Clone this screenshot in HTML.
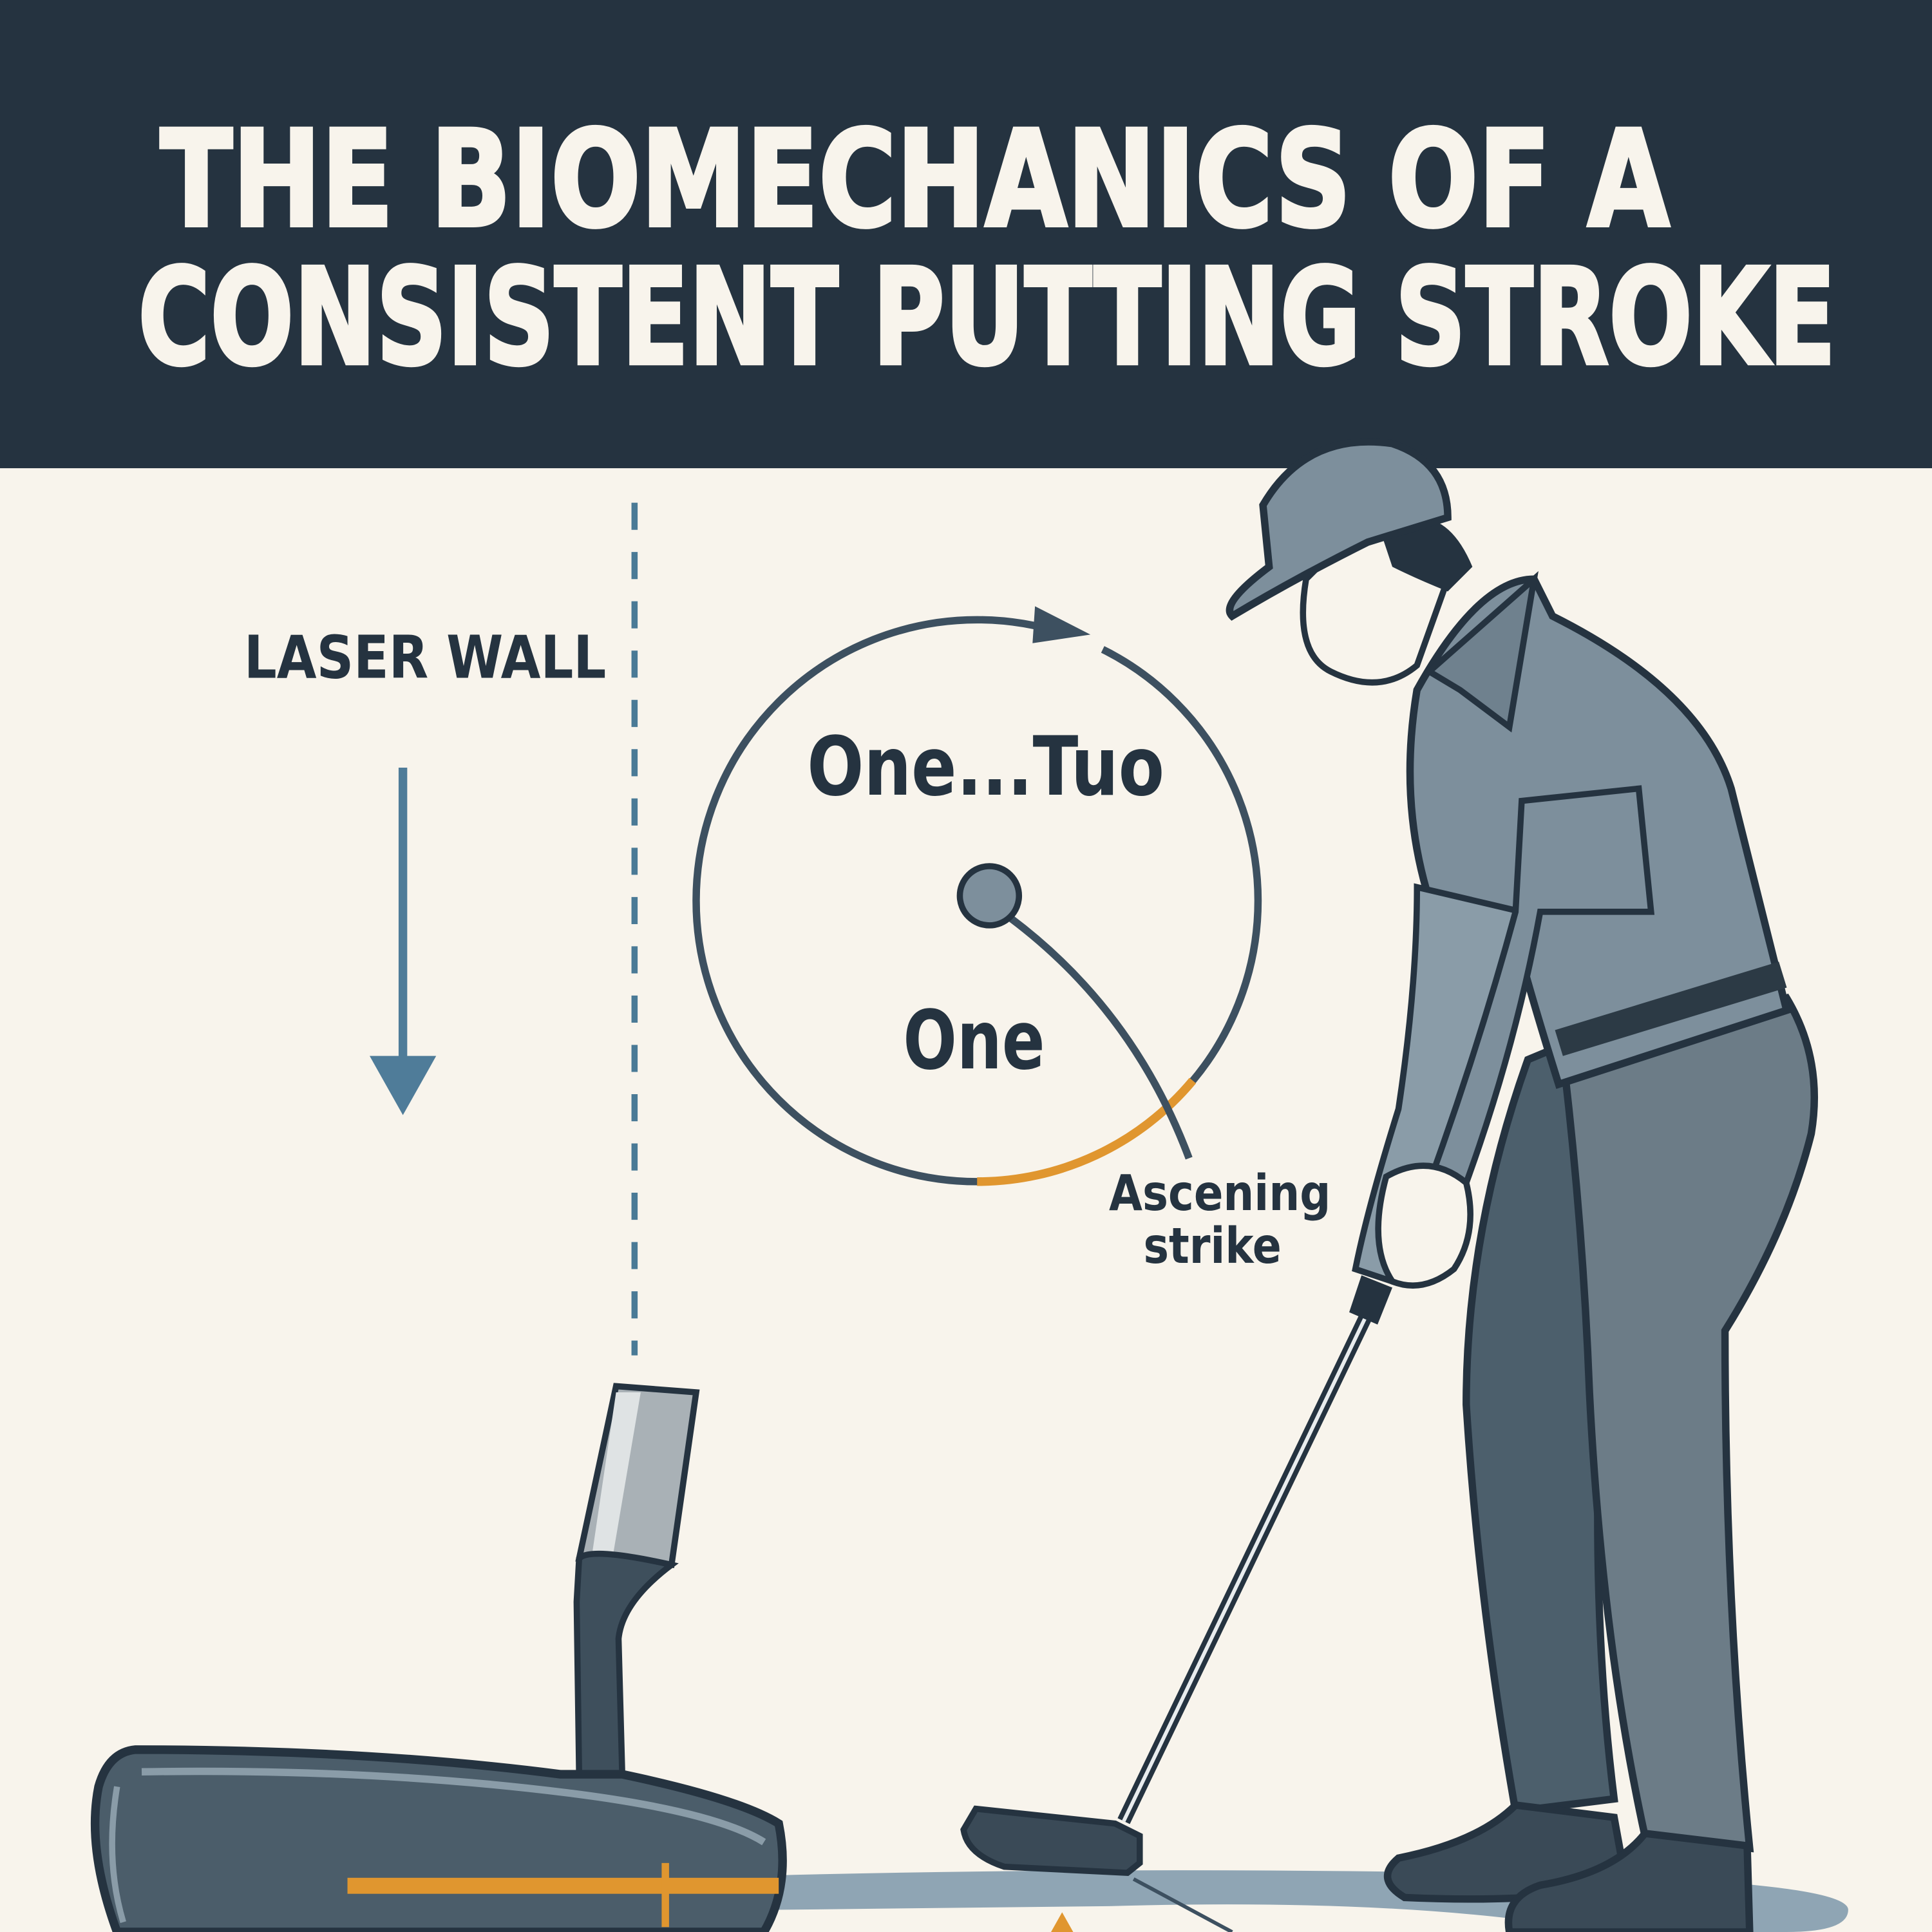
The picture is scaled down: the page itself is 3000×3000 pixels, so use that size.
<!DOCTYPE html>
<html><head><meta charset="utf-8"><style>html,body{margin:0;padding:0;background:#f8f4ec}svg{display:block}</style></head>
<body>
<svg width="3000" height="3000" viewBox="0 0 1568 1568" xmlns="http://www.w3.org/2000/svg">
<rect width="1568" height="1568" fill="#f8f4ec"/>
<rect width="1568" height="380" fill="#253340"/>
<g font-family="'DejaVu Sans','Liberation Sans',sans-serif" font-weight="bold" fill="#f8f4ec" stroke="#f8f4ec" stroke-width="3">
<text x="130" y="183" font-size="108" textLength="1225" lengthAdjust="spacingAndGlyphs">THE BIOMECHANICS OF A</text>
<text x="112" y="295" font-size="108" textLength="1378" lengthAdjust="spacingAndGlyphs">CONSISTENT PUTTING STROKE</text>
</g>
<line x1="515" y1="408" x2="515" y2="1100" stroke="#4a7a96" stroke-width="5" stroke-dasharray="22 18"/>
<text x="198" y="550" font-family="'DejaVu Sans','Liberation Sans',sans-serif" font-weight="bold" font-size="48" fill="#253340" textLength="294" lengthAdjust="spacingAndGlyphs">LASER WALL</text>
<line x1="327" y1="623" x2="327" y2="862" stroke="#4f7c99" stroke-width="7"/>
<polygon points="300,857 354,857 327,905" fill="#4f7c99"/>
<!-- circle center 793,731 r 228 -->
<circle cx="793" cy="731" r="228" fill="none" stroke="#3d5060" stroke-width="6"/>
<path d="M865,515 A228,228 0 0 1 895,527" fill="none" stroke="#f8f4ec" stroke-width="9"/>
<path d="M793,959 A228,228 0 0 0 968,877" fill="none" stroke="#e0962f" stroke-width="7"/>
<polygon points="840,492 885,515 838,522" fill="#3d5060"/>
<path d="M820,745 Q920,820 965,940" fill="none" stroke="#3d5060" stroke-width="6"/>
<circle cx="803" cy="727" r="24" fill="#7d8f9c" stroke="#253340" stroke-width="5"/>
<g font-family="'DejaVu Sans','Liberation Sans',sans-serif" font-weight="bold" fill="#253340">
<text x="655" y="645" font-size="66" textLength="290" lengthAdjust="spacingAndGlyphs">One...Tuo</text>
<text x="733" y="867" font-size="66" textLength="115" lengthAdjust="spacingAndGlyphs">One</text>
<text x="900" y="982" font-size="40" textLength="180" lengthAdjust="spacingAndGlyphs">Ascening</text>
<text x="928" y="1025" font-size="40" textLength="112" lengthAdjust="spacingAndGlyphs">strike</text>
</g>
<!-- shadow -->
<path d="M630,1522 Q900,1515 1200,1520 Q1500,1525 1500,1550 Q1500,1568 1450,1568 L1300,1568 Q1150,1540 900,1547 L630,1550 Z" fill="#8fa5b4"/>
<line x1="920" y1="1525" x2="1000" y2="1568" stroke="#3d5060" stroke-width="3"/>
<polygon points="862,1552 853,1568 871,1568" fill="#e0962f"/>
<!-- big putter -->
<path d="M500,1125 L565,1130 L545,1270 L470,1265 Z" fill="#a9b1b6" stroke="#253340" stroke-width="5"/>
<path d="M500,1130 L520,1130 L497,1265 L480,1265 Z" fill="#dfe3e4"/>
<path d="M470,1265 Q478,1255 545,1270 Q505,1300 502,1330 L505,1440 L470,1440 L468,1300 Z" fill="#3e4f5c" stroke="#253340" stroke-width="5"/>
<path d="M110,1420 Q300,1420 455,1440 L505,1440 Q600,1460 632,1480 Q642,1530 620,1568 L95,1568 Q70,1500 80,1450 Q88,1422 110,1420 Z" fill="#4b5d6a" stroke="#253340" stroke-width="7"/>
<path d="M115,1438 Q300,1435 460,1455 Q580,1470 620,1495" fill="none" stroke="#8a9ca8" stroke-width="6"/>
<path d="M95,1450 Q85,1510 100,1560" fill="none" stroke="#8a9ca8" stroke-width="5"/>
<rect x="282" y="1524" width="350" height="13" fill="#e0962f"/>
<rect x="537" y="1512" width="6" height="52" fill="#e0962f"/>
<!-- golfer shaft -->
<line x1="1115" y1="1055" x2="912" y2="1478" stroke="#253340" stroke-width="11"/>
<line x1="1115" y1="1055" x2="912" y2="1478" stroke="#e8ecee" stroke-width="3"/>
<path d="M1105,1035 L1130,1045 L1118,1075 L1095,1065 Z" fill="#253340"/>
<path d="M792,1468 L905,1480 L925,1490 L925,1512 L915,1520 L815,1515 Q785,1505 782,1485 Z" fill="#3a4a57" stroke="#253340" stroke-width="5"/>
<!-- legs -->
<path d="M1240,860 L1300,835 Q1320,980 1300,1100 Q1290,1300 1310,1460 L1230,1470 Q1200,1300 1190,1140 Q1190,1000 1240,860 Z" fill="#4c5f6c" stroke="#253340" stroke-width="6"/>
<path d="M1270,870 L1450,810 Q1480,860 1470,920 Q1450,1000 1400,1080 Q1400,1300 1420,1500 L1335,1490 Q1300,1330 1290,1130 Q1285,1000 1270,870 Z" fill="#6c7c87" stroke="#253340" stroke-width="6"/>
<!-- shoes -->
<path d="M1230,1465 L1310,1475 L1320,1530 Q1250,1545 1140,1540 Q1115,1525 1135,1508 Q1200,1495 1230,1465 Z" fill="#3a4a57" stroke="#253340" stroke-width="6"/>
<path d="M1335,1488 L1418,1498 L1420,1568 L1225,1568 Q1220,1540 1250,1530 Q1310,1520 1335,1488 Z" fill="#3a4a57" stroke="#253340" stroke-width="6"/>
<!-- torso -->
<path d="M1150,560 Q1200,470 1245,470 L1260,500 Q1380,560 1405,640 L1445,800 L1450,820 L1265,880 Q1240,800 1230,760 L1160,730 Q1135,650 1150,560 Z" fill="#7d8f9c" stroke="#253340" stroke-width="6"/>
<path d="M1160,545 L1245,470 L1225,590 L1185,560 Z" fill="#6f818e" stroke="#253340" stroke-width="5"/>
<rect x="1262" y="836" width="190" height="22" transform="rotate(-17 1262 836)" fill="#2c3a45"/>
<!-- arms -->
<path d="M1150,720 Q1150,800 1135,900 Q1110,980 1100,1030 L1130,1040 Q1160,950 1200,880 Q1230,800 1235,740 Z" fill="#8a9ca8" stroke="#253340" stroke-width="5"/>
<path d="M1235,650 L1330,640 L1340,740 L1250,740 Q1230,850 1190,960 L1160,960 Q1200,850 1230,740 Z" fill="#7d8f9c" stroke="#253340" stroke-width="5"/>
<path d="M1125,955 Q1160,935 1190,960 Q1200,1000 1180,1030 Q1155,1050 1130,1040 Q1110,1010 1125,955 Z" fill="#f8f4ec" stroke="#253340" stroke-width="5"/>
<!-- head -->
<path d="M1060,470 Q1050,530 1080,545 Q1120,565 1150,540 L1175,470 Q1180,440 1160,420 L1100,430 Z" fill="#f8f4ec" stroke="#253340" stroke-width="5"/>
<path d="M1120,430 Q1170,400 1195,460 L1175,480 Q1150,470 1130,460 Z" fill="#253340"/>
<path d="M1025,410 Q1060,350 1130,360 Q1175,375 1175,420 L1110,440 Q1050,470 1000,500 Q990,490 1030,460 Z" fill="#7d8f9c" stroke="#253340" stroke-width="6"/>
</svg>
</body></html>
